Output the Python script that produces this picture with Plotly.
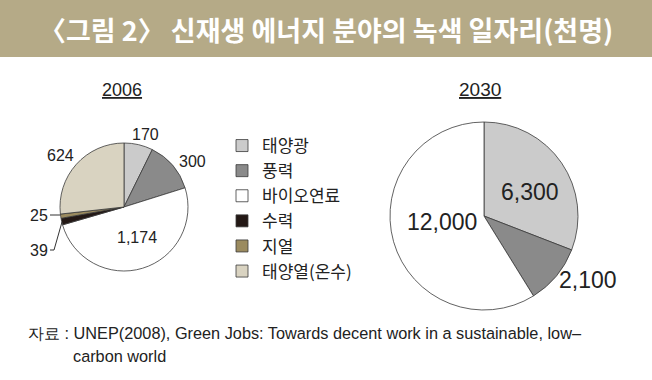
import plotly.graph_objects as go

W, H = 652, 380

# ---------------- data ----------------
categories = ["태양광", "풍력", "바이오연료", "수력", "지열", "태양열(온수)"]
values_2006 = [170, 300, 1174, 39, 25, 624]
labels_2006 = ["170", "300", "1,174", "39", "25", "624"]
categories_2030 = ["태양광", "풍력", "바이오연료"]
values_2030 = [6300, 2100, 12000]
labels_2030 = ["6,300", "2,100", "12,000"]
colors = {
    "태양광": "#CBCBCB",
    "풍력": "#8A8A8A",
    "바이오연료": "#FFFFFF",
    "수력": "#231815",
    "지열": "#9B8B5F",
    "태양열(온수)": "#D9D3C1",
}
title_text = "〈그림 2〉 신재생 에너지 분야의 녹색 일자리(천명)"
source_line1 = "자료 : UNEP(2008), Green Jobs: Towards decent work in a sustainable, low–"
source_line2 = "carbon world"

# ---------------- helpers (pixel -> paper) ----------------
def px(x):
    return x / W

def py(y):
    return 1 - y / H

TXT = "#222222"
LATIN = "Liberation Sans, Arial, sans-serif"
KR = "Noto Sans CJK KR, sans-serif"

# pie geometry (pixels)
c1, r1 = (124, 207), 64
c2, r2 = (484, 216), 94

fig = go.Figure()
fig.add_trace(go.Pie(
    labels=categories, values=values_2006, sort=False, direction="clockwise",
    rotation=0, textinfo="none", hoverinfo="label+value",
    marker=dict(colors=[colors[c] for c in categories], line=dict(color="#3a3a3a", width=0.8)),
    domain=dict(x=[px(c1[0] - r1), px(c1[0] + r1)], y=[py(c1[1] + r1), py(c1[1] - r1)]),
))
fig.add_trace(go.Pie(
    labels=categories_2030, values=values_2030, sort=False, direction="clockwise",
    rotation=0, textinfo="none", hoverinfo="label+value",
    marker=dict(colors=[colors[c] for c in categories_2030], line=dict(color="#3a3a3a", width=0.8)),
    domain=dict(x=[px(c2[0] - r2), px(c2[0] + r2)], y=[py(c2[1] + r2), py(c2[1] - r2)]),
))

annotations = []
shapes = []

# title banner
shapes.append(dict(type="rect", xref="paper", yref="paper", x0=0, x1=1, y0=py(57), y1=1,
                   fillcolor="#B5AA87", line=dict(width=0), layer="below"))
annotations.append(dict(text="<b>" + title_text + "</b>", x=px(326), y=py(29), xref="paper", yref="paper",
                        showarrow=False, font=dict(family=KR, size=27, color="white"),
                        xanchor="center", yanchor="middle"))

# pie titles
annotations.append(dict(text="<u>2006</u>", x=px(122), y=py(90), xref="paper", yref="paper", showarrow=False,
                        font=dict(family=LATIN, size=18, color=TXT), xanchor="center", yanchor="middle"))
annotations.append(dict(text="<u>2030</u>", x=px(480), y=py(90), xref="paper", yref="paper", showarrow=False,
                        font=dict(family=LATIN, size=19, color=TXT), xanchor="center", yanchor="middle"))

# 2006 labels (text placement, pixels)
pos_2006 = {"170": (145, 134), "300": (192, 161), "1,174": (137, 238), "624": (60, 156),
            "25": (39, 215), "39": (39, 250)}
for lab in labels_2006:
    x, y = pos_2006[lab]
    annotations.append(dict(text=lab, x=px(x), y=py(y), xref="paper", yref="paper", showarrow=False,
                            font=dict(family=LATIN, size=16, color=TXT), xanchor="center", yanchor="middle"))
# leader lines for small slices
shapes.append(dict(type="line", xref="paper", yref="paper", x0=px(50), y0=py(215), x1=px(60), y1=py(215),
                   line=dict(color="#333", width=1)))
shapes.append(dict(type="path", xref="paper", yref="paper",
                   path=f"M {px(50)} {py(250)} L {px(54)} {py(250)} L {px(62)} {py(222)}",
                   line=dict(color="#333", width=1)))

# 2030 labels
pos_2030 = {"6,300": (530, 192), "2,100": (588, 280), "12,000": (442, 222)}
for lab in labels_2030:
    x, y = pos_2030[lab]
    annotations.append(dict(text=lab, x=px(x), y=py(y), xref="paper", yref="paper", showarrow=False,
                            font=dict(family=LATIN, size=23, color=TXT), xanchor="center", yanchor="middle"))

# source
annotations.append(dict(text=source_line1, x=px(26), y=py(333), xref="paper", yref="paper", showarrow=False,
                        font=dict(family=LATIN, size=16.3, color=TXT), xanchor="left", yanchor="middle"))
annotations.append(dict(text=source_line2, x=px(71), y=py(356), xref="paper", yref="paper", showarrow=False,
                        font=dict(family=LATIN, size=16.3, color=TXT), xanchor="left", yanchor="middle"))

fig.update_layout(
    width=W, height=H, margin=dict(l=0, r=0, t=0, b=0),
    paper_bgcolor="white", plot_bgcolor="white",
    annotations=annotations, shapes=shapes,
    showlegend=True,
    legend=dict(x=px(222), y=py(128), xanchor="left", yanchor="top", orientation="v",
                font=dict(family=KR, size=17, color=TXT), bgcolor="rgba(0,0,0,0)",
                traceorder="normal", itemclick=False, itemdoubleclick=False),
)

fig.write_html("out.html", config={"displayModeBar": False},
               post_script="document.body.style.margin='0';document.body.style.padding='0';")
